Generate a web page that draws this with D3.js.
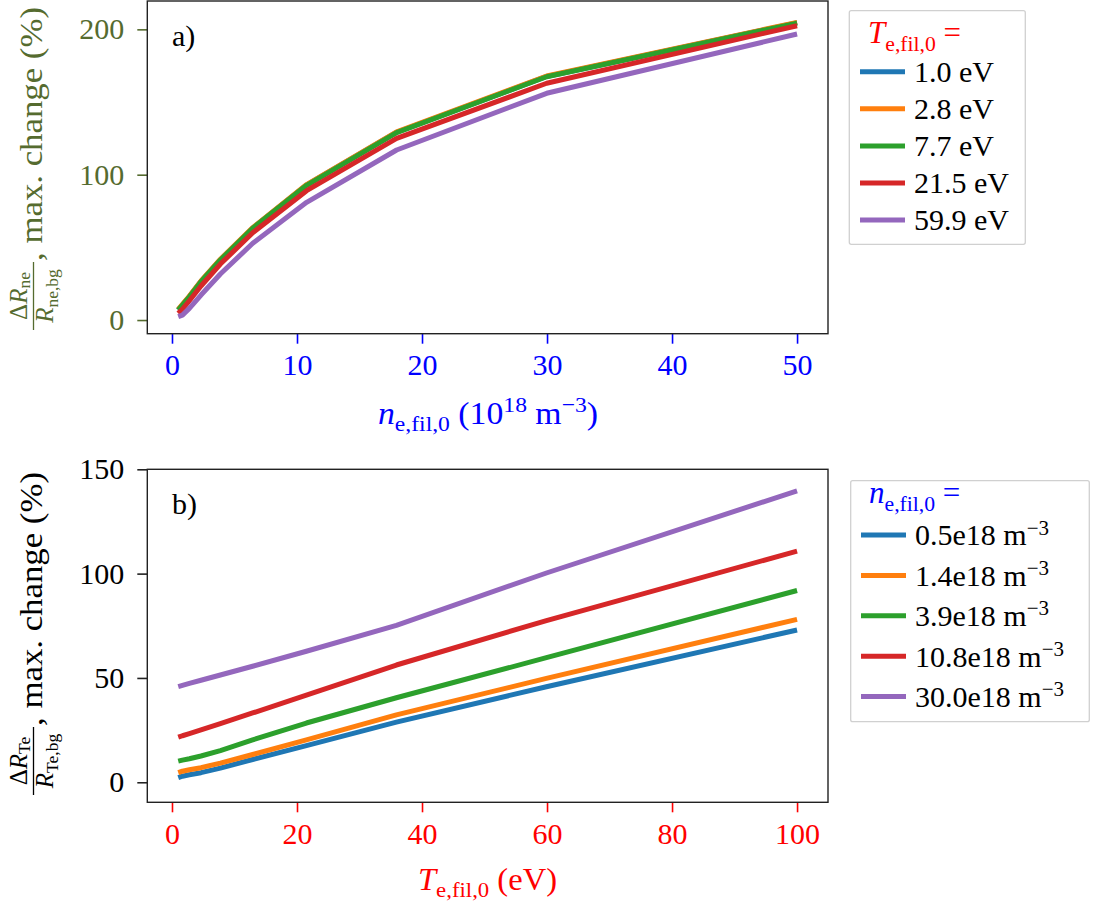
<!DOCTYPE html>
<html><head><meta charset="utf-8">
<script src="https://cdn.jsdelivr.net/npm/d3@7"></script>
<style>
html,body{margin:0;padding:0;background:#fff;}
svg{display:block;}
svg text{font-family:"Liberation Serif","DejaVu Serif",serif;}
</style></head><body>
<svg id="chart" width="1112" height="907"></svg>
<script>
// ---------- data ----------
const nValues = [0.5, 0.834, 1.39, 2.32, 3.87, 6.46, 10.77, 17.97, 29.97, 50];
const tValues = [1, 1.668, 2.78, 4.64, 7.74, 12.9, 21.5, 35.9, 59.9, 100];

// panel a: dR_ne/R_ne,bg (%) vs n, one series per T_e,fil,0
const tLegendLabels = ["1.0", "2.8", "7.7", "21.5", "59.9"];
const a_T1_0  = [7.0, 10.5, 16.2, 26.6, 41.5, 63.3, 92.9, 129.2, 167.6, 204.5];
const a_T2_8  = [7.3, 10.8, 16.5, 26.9, 41.8, 63.6, 93.2, 129.5, 167.9, 204.8];
const a_T7_7  = [6.9, 10.3, 16.0, 26.4, 41.3, 63.1, 92.7, 129.0, 167.4, 204.3];
const a_T21_5 = [4.6, 7.4, 13.3, 23.4, 38.5, 60.1, 89.0, 125.0, 162.9, 202.5];
const a_T59_9 = [2.3, 3.4, 8.0, 17.2, 31.7, 52.8, 81.0, 117.0, 156.0, 196.8];

// panel b: dR_Te/R_Te,bg (%) vs T, one series per n_e,fil,0
const nLegendLabels = ["0.5", "1.4", "3.9", "10.8", "30.0"];
const b_n0_5  = [2.2, 2.9, 3.6, 4.6, 6.8, 10.9, 17.6, 28.8, 45.8, 73.0];
const b_n1_4  = [4.6, 5.3, 6.0, 7.0, 9.2, 13.3, 20.3, 32.3, 49.8, 78.1];
const b_n3_9  = [10.1, 10.6, 11.3, 12.6, 15.2, 20.3, 28.4, 40.5, 59.7, 91.9];
const b_n10_8 = [21.6, 22.3, 23.3, 25.1, 28.1, 33.2, 41.8, 56.2, 77.5, 110.8];
const b_n30_0 = [45.8, 46.4, 47.4, 48.9, 51.4, 55.6, 62.8, 75.2, 100.3, 139.7];

const xTicksA = [0, 10, 20, 30, 40, 50];
const yTicksA = [0, 100, 200];
const xTicksB = [0, 20, 40, 60, 80, 100];
const yTicksB = [0, 50, 100, 150];

const colors = ["#1f77b4", "#ff7f0e", "#2ca02c", "#d62728", "#9467bd"];
const OLIVE = "#556b2f", BLUE = "#0000ff", RED = "#ff0000";

// ---------- helpers ----------
const svg = d3.select("#chart");

function rich(sel, segs, size, subShift) {
  const ss = subShift === undefined ? 0.24 : subShift;
  let cur = 0;
  segs.forEach(s => {
    const small = s.sub || s.sup;
    const target = s.sub ? size * ss : (s.sup ? -size * 0.36 : 0);
    const ts = sel.append("tspan").text(s.t).attr("font-size", small ? size * 0.7 : size);
    if (target !== cur) ts.attr("dy", target - cur);
    cur = target;
    if (s.it) ts.attr("font-style", "italic");
  });
  return sel;
}

function panel(cfg) {
  const x = d3.scaleLinear().domain(cfg.xDomain).range([cfg.left, cfg.right]);
  const y = d3.scaleLinear().domain(cfg.yDomain).range([cfg.bottom, cfg.top]);
  const g = svg.append("g");

  // lines
  const line = d3.line().x((d, i) => x(cfg.xs[i])).y(d => y(d));
  cfg.series.forEach((s, i) => {
    g.append("path").attr("d", line(s)).attr("fill", "none")
      .attr("stroke", colors[i]).attr("stroke-width", 5)
      .attr("stroke-linejoin", "round").attr("stroke-linecap", "butt");
  });

  // axes
  const ax = g.append("g").attr("transform", `translate(0,${cfg.bottom})`)
    .call(d3.axisBottom(x).tickValues(cfg.xTicks).tickFormat(d3.format("d"))
      .tickSize(10).tickSizeOuter(0).tickPadding(10));
  ax.select(".domain").remove();
  ax.selectAll("line").attr("stroke", cfg.xColor).attr("stroke-width", 1.6);
  ax.selectAll("text").attr("fill", cfg.xColor).attr("font-size", 30);

  const ay = g.append("g").attr("transform", `translate(${cfg.left},0)`)
    .call(d3.axisLeft(y).tickValues(cfg.yTicks).tickFormat(d3.format("d"))
      .tickSize(10).tickSizeOuter(0).tickPadding(13));
  ay.select(".domain").remove();
  ay.selectAll("line").attr("stroke", cfg.yTickColor).attr("stroke-width", 1.6);
  ay.selectAll("text").attr("fill", cfg.yColor).attr("font-size", 30);

  // spines
  g.append("rect").attr("x", cfg.left).attr("y", cfg.top)
    .attr("width", cfg.right - cfg.left).attr("height", cfg.bottom - cfg.top)
    .attr("fill", "none").attr("stroke", "#222").attr("stroke-width", 1.4);

  // panel tag
  g.append("text").attr("x", x(0)).attr("y", cfg.top + 45)
    .attr("font-size", 30).attr("fill", "#000").text(cfg.tag);

  // x label
  rich(g.append("text").attr("x", cfg.xLabelX).attr("y", cfg.xLabelY)
    .attr("text-anchor", "middle").attr("fill", cfg.xColor)
    .attr("textLength", cfg.xLabelLen).attr("lengthAdjust", "spacingAndGlyphs"),
    cfg.xLabel, 31);

  // y label (rotated)
  const yl = g.append("g").attr("transform", "rotate(-90)");
  const fc = cfg.fracCenter, fw = 34;
  rich(yl.append("text").attr("x", -fc).attr("y", 26.5).attr("text-anchor", "middle")
    .attr("fill", cfg.yColor), cfg.yNum, 25, 0.12);
  yl.append("line").attr("x1", -fc - fw).attr("x2", -fc + fw)
    .attr("y1", 33.5).attr("y2", 33.5).attr("stroke", cfg.yColor).attr("stroke-width", 1.3);
  rich(yl.append("text").attr("x", -fc).attr("y", 53).attr("text-anchor", "middle")
    .attr("fill", cfg.yColor), cfg.yDen, 25, 0.2);
  yl.append("text").attr("x", -(fc - fw - 1)).attr("y", 42).attr("fill", cfg.yColor)
    .attr("font-size", 31).attr("textLength", 254).attr("lengthAdjust", "spacingAndGlyphs")
    .text(", max. change (%)");

  // legend
  const L = cfg.legend;
  const lg = svg.append("g");
  lg.append("rect").attr("x", L.x).attr("y", L.y).attr("width", L.w).attr("height", L.h)
    .attr("rx", 2).attr("fill", "#fff").attr("stroke", "#d0d0d0").attr("stroke-width", 1.3);
  rich(lg.append("text").attr("x", L.titleX).attr("y", L.titleY).attr("fill", L.titleColor),
    L.title, 31);
  L.labels.forEach((lab, i) => {
    const ly = L.firstY + i * L.step;
    lg.append("line").attr("x1", L.lineX1).attr("x2", L.lineX2)
      .attr("y1", ly).attr("y2", ly).attr("stroke", colors[i]).attr("stroke-width", 5);
    rich(lg.append("text").attr("x", L.textX).attr("y", ly + 10.3).attr("fill", "#000"),
      L.entry(lab), 30);
  });
}

// ---------- panel a ----------
panel({
  xs: nValues,
  series: [a_T1_0, a_T2_8, a_T7_7, a_T21_5, a_T59_9],
  xDomain: [-1.975, 52.475], yDomain: [-9.4, 219.5],
  left: 147.3, right: 828, top: 1, bottom: 333.7,
  xTicks: xTicksA, yTicks: yTicksA,
  xColor: BLUE, yColor: OLIVE, yTickColor: OLIVE,
  tag: "a)",
  xLabelX: 488, xLabelY: 423.5, xLabelLen: 220,
  xLabel: [{t: "n", it: true}, {t: "e,fil,0", sub: true}, {t: " (10"}, {t: "18", sup: true},
           {t: " m"}, {t: "\u22123", sup: true}, {t: ")"}],
  fracCenter: 296,
  yNum: [{t: "\u0394"}, {t: "R", it: true}, {t: "ne", sub: true}],
  yDen: [{t: "R", it: true}, {t: "ne,bg", sub: true}],
  legend: {
    x: 849.3, y: 10.7, w: 176, h: 233.6,
    titleX: 868, titleY: 43.3, titleColor: RED,
    title: [{t: "T", it: true}, {t: "e,fil,0", sub: true}, {t: " ="}],
    labels: tLegendLabels, firstY: 71.7, step: 37.1,
    lineX1: 860, lineX2: 905, textX: 914,
    entry: lab => [{t: lab + " eV"}]
  }
});

// ---------- panel b ----------
panel({
  xs: tValues,
  series: [b_n0_5, b_n1_4, b_n3_9, b_n10_8, b_n30_0],
  xDomain: [-3.95, 104.95], yDomain: [-9.6, 150],
  left: 147.3, right: 828, top: 469.3, bottom: 802.3,
  xTicks: xTicksB, yTicks: yTicksB,
  xColor: RED, yColor: "#000", yTickColor: "#222",
  tag: "b)",
  xLabelX: 487.5, xLabelY: 890, xLabelLen: 139,
  xLabel: [{t: "T", it: true}, {t: "e,fil,0", sub: true}, {t: " (eV)"}],
  fracCenter: 761,
  yNum: [{t: "\u0394"}, {t: "R", it: true}, {t: "Te", sub: true}],
  yDen: [{t: "R", it: true}, {t: "Te,bg", sub: true}],
  legend: {
    x: 850.7, y: 480.7, w: 238.6, h: 241,
    titleX: 869, titleY: 503.3, titleColor: BLUE,
    title: [{t: "n", it: true}, {t: "e,fil,0", sub: true}, {t: " ="}],
    labels: nLegendLabels, firstY: 535, step: 40.4,
    lineX1: 861, lineX2: 906, textX: 915,
    entry: lab => [{t: lab + "e18 m"}, {t: "\u22123", sup: true}]
  }
});
</script>
</body></html>
